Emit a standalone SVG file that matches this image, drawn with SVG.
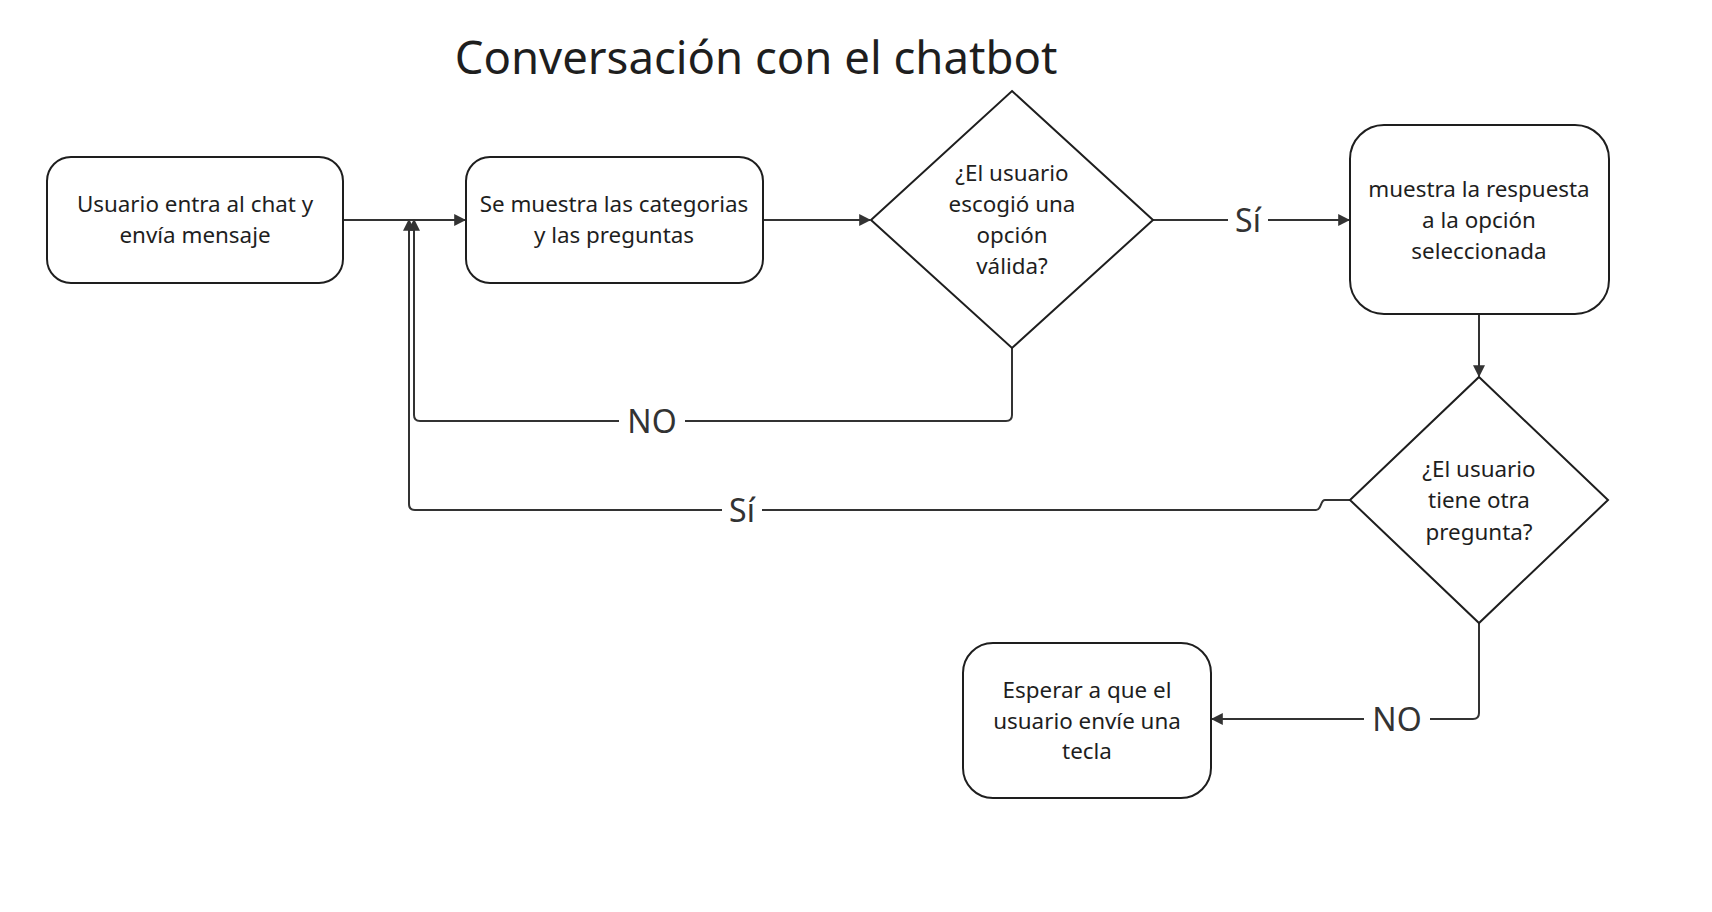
<svg xmlns="http://www.w3.org/2000/svg" width="1712" height="912" viewBox="0 0 1712 912">
<style>
  .node { fill: #ffffff; stroke: #1e1e1e; stroke-width: 2; }
  .ntext { font-family: "Noto Sans", "Open Sans", sans-serif; font-size: 22.4px; fill: #1e1e1e; text-anchor: middle; }
  .edge { fill: none; stroke: #333333; stroke-width: 2; }
  .elabel { font-family: "Noto Sans", "Open Sans", sans-serif; font-size: 32px; fill: #333333; text-anchor: middle; }
  .lbg { fill: #ffffff; stroke: none; }
  .title { font-family: "Noto Sans", "Open Sans", sans-serif; font-size: 45.5px; fill: #1e1e1e; text-anchor: middle; }
</style>
<defs>
  <marker id="arrow" viewBox="0 0 10 10" refX="9" refY="5" markerWidth="12" markerHeight="12" markerUnits="userSpaceOnUse" orient="auto">
    <path d="M0,0 L10,5 L0,10 z" fill="#333333"/>
  </marker>
</defs>
<rect width="1712" height="912" fill="#ffffff"/>
<text class="title" x="756" y="74">Conversación con el chatbot</text>

<g id="connectors">
  <path class="edge" d="M343,220 H465" marker-end="url(#arrow)"/>
  <path class="edge" d="M763,220 H870" marker-end="url(#arrow)"/>
  <path class="edge" d="M1153,220 H1349" marker-end="url(#arrow)"/>
  <rect class="lbg" x="1228" y="200" width="40" height="40"/>
  <text class="elabel" x="1248" y="232">Sí</text>
  <path class="edge" d="M1479,314 V376" marker-end="url(#arrow)"/>
  <path class="edge" d="M1479,623 V713 Q1479,719 1473,719 H1212" marker-end="url(#arrow)"/>
  <rect class="lbg" x="1364" y="699" width="66" height="40"/>
  <text class="elabel" x="1397" y="731">NO</text>
  <path class="edge" d="M1012,348 V415 Q1012,421 1006,421 H420 Q414,421 414,415 V220" marker-end="url(#arrow)"/>
  <rect class="lbg" x="619" y="401" width="66" height="40"/>
  <text class="elabel" x="652" y="433">NO</text>
  <path class="edge" d="M1350,500 H1325 C1320,500 1322,510 1316,510 H415 Q409,510 409,504 V220" marker-end="url(#arrow)"/>
  <rect class="lbg" x="722" y="490" width="40" height="40"/>
  <text class="elabel" x="742" y="522">Sí</text>
</g>

<g id="node-inicio">
  <rect class="node" x="47" y="157" width="296" height="126" rx="24"/>
  <text class="ntext" x="195" y="212">Usuario entra al chat y</text>
  <text class="ntext" x="195" y="243">envía mensaje</text>
</g>

<g id="node-categorias">
  <rect class="node" x="466" y="157" width="297" height="126" rx="24"/>
  <text class="ntext" x="614" y="212">Se muestra las categorias</text>
  <text class="ntext" x="614" y="243">y las preguntas</text>
</g>

<g id="node-opcion-valida">
  <polygon class="node" points="1012,91 1153,220 1012,348 871,220"/>
  <text class="ntext" x="1012" y="181">¿El usuario</text>
  <text class="ntext" x="1012" y="212">escogió una</text>
  <text class="ntext" x="1012" y="243">opción</text>
  <text class="ntext" x="1012" y="274">válida?</text>
</g>

<g id="node-respuesta">
  <rect class="node" x="1350" y="125" width="259" height="189" rx="34"/>
  <text class="ntext" x="1479" y="197">muestra la respuesta</text>
  <text class="ntext" x="1479" y="228">a la opción</text>
  <text class="ntext" x="1479" y="259">seleccionada</text>
</g>

<g id="node-otra-pregunta">
  <polygon class="node" points="1479,377 1608,500 1479,623 1350,500"/>
  <text class="ntext" x="1479" y="477">¿El usuario</text>
  <text class="ntext" x="1479" y="508">tiene otra</text>
  <text class="ntext" x="1479" y="540">pregunta?</text>
</g>

<g id="node-esperar">
  <rect class="node" x="963" y="643" width="248" height="155" rx="30"/>
  <text class="ntext" x="1087" y="698">Esperar a que el</text>
  <text class="ntext" x="1087" y="729">usuario envíe una</text>
  <text class="ntext" x="1087" y="759">tecla</text>
</g>
</svg>
